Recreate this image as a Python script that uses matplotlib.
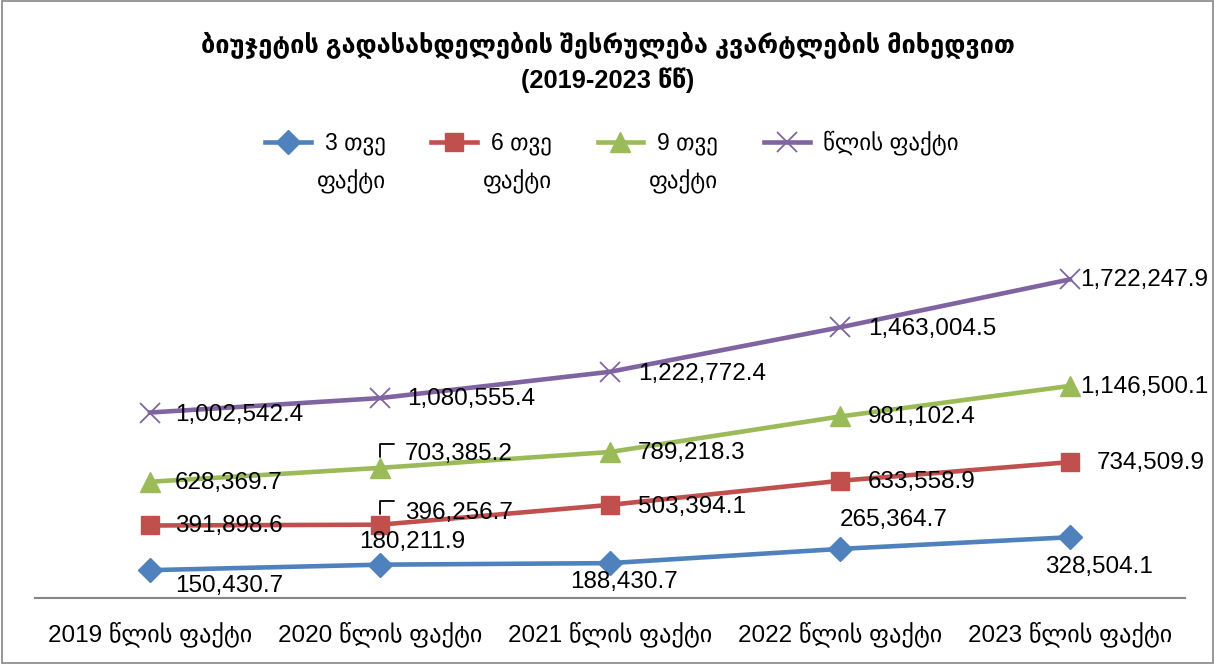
import matplotlib
matplotlib.use('Agg')
import matplotlib.pyplot as plt
from matplotlib.patches import Rectangle

plt.rcParams['font.family'] = ['Liberation Sans', 'DejaVu Sans']

# data
categories = ['2019 წლის ფაქტი', '2020 წლის ფაქტი', '2021 წლის ფაქტი',
              '2022 წლის ფაქტი', '2023 წლის ფაქტი']
fact_3m = [150430.7, 180211.9, 188430.7, 265364.7, 328504.1]
fact_6m = [391898.6, 396256.7, 503394.1, 633558.9, 734509.9]
fact_9m = [628369.7, 703385.2, 789218.3, 981102.4, 1146500.1]
fact_year = [1002542.4, 1080555.4, 1222772.4, 1463004.5, 1722247.9]

series_names = ['3 თვე', '6 თვე', '9 თვე', 'წლის ფაქტი']
colors = ['#4F81BD', '#C0504D', '#9BBB59', '#8064A2']
markers = ['D', 's', '^', 'x']
msizes = [12, 13, 14, 14]

# label offsets in pixels (dx to left edge of label, dy of label centre)
offsets = [
    [(25, -16), (-21, 23), (-40, -19), (0, 29), (-25, -30)],
    [(25, -1), (25, 12), (28, -2), (28, -1), (27, -1)],
    [(25, -1), (25, 14), (28, -1), (28, -1), (10, -1)],
    [(25, -2), (27, -1), (28, -2), (28, -2), (10, -1)],
]

fs = 17.5

fig = plt.figure(figsize=(12.15, 6.64), dpi=100)
ax = fig.add_axes([35 / 1215, 1 - 598 / 664, 1150 / 1215, 370 / 664])

x = list(range(len(categories)))
all_series = [fact_3m, fact_6m, fact_9m, fact_year]
handles = []
for vals, name, c, m, ms, offs in zip(all_series, series_names, colors, markers, msizes, offsets):
    if m == 'x':
        h, = ax.plot(x, vals, color=c, lw=3.3, marker=m, ms=ms, mew=1.3, label=name, zorder=3)
    else:
        h, = ax.plot(x, vals, color=c, lw=3.3, marker=m, ms=ms, label=name, zorder=3)
    handles.append(h)
    for xi, v, (dx, dy) in zip(x, vals, offs):
        ax.annotate(f'{v:,.1f}', xy=(xi, v), xytext=(dx, dy), textcoords='offset pixels',
                    ha='left', va='center', fontsize=fs, color='black', zorder=4)

# leader lines for the 2020 labels of 6 and 9 months
for vals in (fact_6m, fact_9m):
    ax.annotate('', xy=(1, vals[1]), xytext=(14, 24), textcoords='offset pixels',
                arrowprops=dict(arrowstyle='-', color='black', lw=1.3,
                                connectionstyle='angle,angleA=0,angleB=90,rad=0',
                                shrinkA=0, shrinkB=8))

ax.set_xlim(-0.5, 4.5)
ax.set_ylim(0, 2000000)
ax.set_xticks(x)
ax.set_xticklabels(categories, fontsize=fs)
ax.tick_params(axis='x', length=0, pad=17)
ax.set_yticks([])
for s in ['left', 'right', 'top']:
    ax.spines[s].set_visible(False)
ax.spines['bottom'].set_color('#868686')
ax.spines['bottom'].set_linewidth(1.5)

fig.text(0.5, 1 - 45 / 664, 'ბიუჯეტის გადასახდელების შესრულება კვარტლების მიხედვით',
         ha='center', va='center', fontsize=18.3, fontweight='bold')
fig.text(0.5, 1 - 80 / 664, '(2019-2023 წწ)', ha='center', va='center',
         fontsize=18.3, fontweight='bold')

leg = fig.legend(handles=handles, labels=series_names, loc='center',
                 bbox_to_anchor=(612 / 1215, 1 - 143 / 664), ncol=4, frameon=False,
                 fontsize=16.5, handlelength=2.0, handletextpad=0.6, columnspacing=2.0)
fig.canvas.draw()
for t in leg.get_texts()[:3]:
    ax.annotate('ფაქტი', xy=(0.5, 0), xycoords=t, xytext=(-4, -14), textcoords='offset pixels',
                ha='center', va='top', fontsize=16.5, annotation_clip=False)

fig.add_artist(Rectangle((0.002, 0.002), 0.996, 0.996, transform=fig.transFigure,
                         fill=False, edgecolor='#868686', lw=1.2))

fig.savefig('out.png', dpi=100)
